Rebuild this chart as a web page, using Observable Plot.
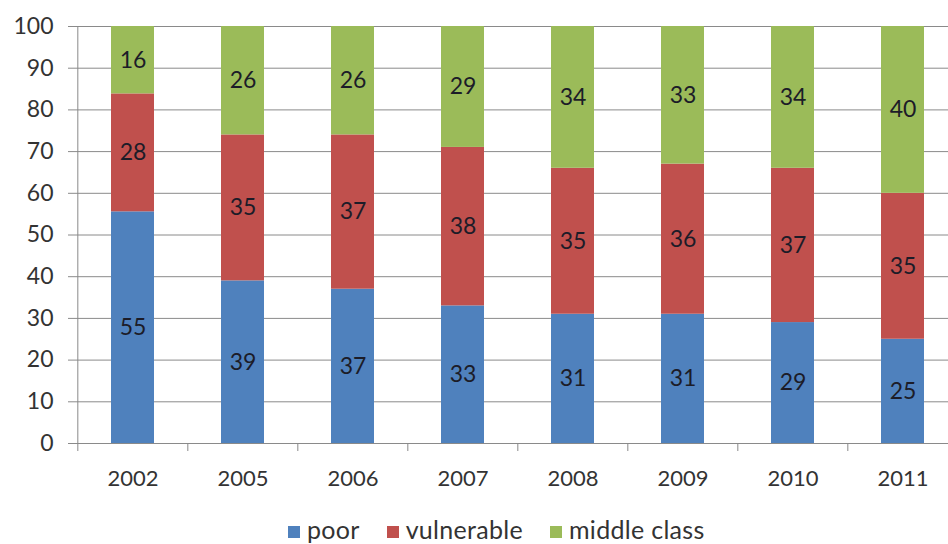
<!DOCTYPE html>
<html>
<head>
<meta charset="utf-8">
<script src="https://cdn.jsdelivr.net/npm/d3@7"></script>
<script src="https://cdn.jsdelivr.net/npm/@observablehq/plot@0.6"></script>
<style>
  html, body { margin: 0; padding: 0; background: #fff; overflow: hidden; }
  body { font-family: Lato, "Open Sans", sans-serif; }
  #legend {
    height: 44px;
    box-sizing: border-box;
    padding-top: 14px;
    padding-left: 288px;
    text-align: left;
    font-size: 25px;
    letter-spacing: 0.3px;
    line-height: 1.2;
    color: #333;
    white-space: nowrap;
  }
  #legend .item { display: inline-block; margin-right: 27px; }
  #legend .swatch {
    display: inline-block;
    width: 12px;
    height: 12px;
    margin-right: 7px;
    vertical-align: 1px;
  }
</style>
</head>
<body>
<div id="chart"></div>
<div id="legend"></div>
<script>
// Income groups by year, share of population (%)
const years = ["2002", "2005", "2006", "2007", "2008", "2009", "2010", "2011"];
const poor = [55, 39, 37, 33, 31, 31, 29, 25];
const vulnerable = [28, 35, 37, 38, 35, 36, 37, 35];
const middleClass = [16, 26, 26, 29, 34, 33, 34, 40];

const groups = ["poor", "vulnerable", "middle class"];
const groupColors = ["#4F81BD", "#C0504D", "#9BBB59"];
const yTickLabels = [0, 10, 20, 30, 40, 50, 60, 70, 80, 90, 100];

const series = [poor, vulnerable, middleClass];
const rows = years.flatMap((year, i) =>
  groups.map((group, g) => ({year, group, value: series[g][i]}))
);

const width = 948;
const height = 500;
const marginLeft = 76;
const marginRight = -11;   // last category runs past the right edge
const step = (width - marginLeft - marginRight) / years.length;
const axisGray = "#8a8a8a";
const yTicks = yTickLabels.map((v) => v / 100);

const stack = (extra) =>
  Plot.stackY({offset: "normalize", x: "year", y: "value", z: "group", ...extra});

const chart = Plot.plot({
  width,
  height,
  marginTop: 26,
  marginBottom: 57,
  marginLeft,
  marginRight,
  style: {fontFamily: "Lato, 'Open Sans', sans-serif", fontSize: "22px", background: "#fff"},
  x: {domain: years, paddingInner: 0.61, paddingOuter: 0.305, label: null},
  y: {domain: [0, 1], label: null},
  color: {domain: groups, range: groupColors},
  marks: [
    Plot.gridY(yTicks, {stroke: axisGray, strokeOpacity: 1}),
    Plot.axisY(yTicks, {
      tickSize: 8,
      tickPadding: 15,
      tickFormat: (d) => Math.round(d * 100),
      stroke: axisGray,
      fill: "#333",
      fontSize: 23,
      label: null
    }),
    Plot.barY(rows, stack({fill: "group"})),
    Plot.text(rows, stack({text: "value", fill: "#1c1c28", fontSize: 23})),
    // vertical axis line at the left edge of the first category
    Plot.ruleX([years[0]], {x: (d) => d, dx: -step / 2, stroke: axisGray}),
    Plot.ruleY([0], {stroke: axisGray}),
    // tick marks between categories
    Plot.axisX({tickSize: 8, tickFormat: () => "", dx: -step / 2, stroke: axisGray, label: null}),
    Plot.axisX({tickSize: 0, tickPadding: 27, fill: "#333", fontSize: 22, label: null})
  ]
});

chart.style.maxWidth = "none";
document.getElementById("chart").appendChild(chart);

const legend = document.getElementById("legend");
groups.forEach((g, i) => {
  const item = document.createElement("span");
  item.className = "item";
  const sw = document.createElement("span");
  sw.className = "swatch";
  sw.style.background = groupColors[i];
  item.appendChild(sw);
  item.appendChild(document.createTextNode(g));
  legend.appendChild(item);
});
</script>
</body>
</html>
